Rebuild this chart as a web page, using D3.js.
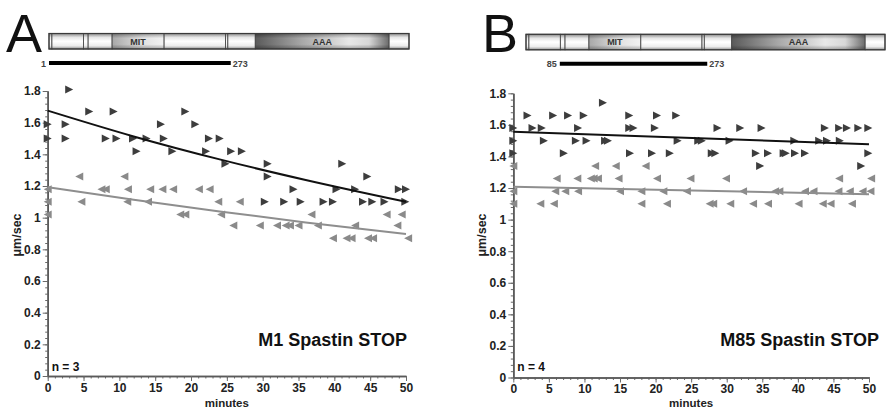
<!DOCTYPE html>
<html>
<head>
<meta charset="utf-8">
<script src="https://cdn.jsdelivr.net/npm/d3@7"></script>
<style>
body{margin:0;background:#fff}
svg{display:block;font-family:"Liberation Sans",Arial,Helvetica,sans-serif}
</style>
</head>
<body>
<div id="chart"></div>
<script>
// spastin speed vs time, two panels

// [minutes, um/sec]
const m1Dark = [[0,1.59],[0,1.50],[2.5,1.59],[2.5,1.50],[3,1.81],[5.8,1.67],[8.1,1.50],[9.2,1.67],[9.6,1.50],[11.9,1.50],[12.4,1.42],[13.8,1.50],[15.8,1.59],[16.2,1.50],[17.4,1.42],[19.2,1.67],[20.6,1.59],[22.1,1.42],[22.5,1.50],[24.0,1.50],[24.8,1.34],[25.6,1.42],[27.1,1.42],[30.3,1.10],[30.7,1.34],[30.7,1.26],[33.0,1.10],[34.3,1.18],[35.3,1.10],[38.5,1.10],[39.8,1.10],[40.3,1.18],[41.1,1.34],[42.9,1.18],[44.0,1.10],[44.6,1.26],[45.3,1.10],[47.0,1.10],[49.0,1.18],[49.9,1.10],[50.0,1.18]]
const m1Gray = [[0,1.18],[0,1.10],[0,1.02],[4.4,1.26],[4.7,1.10],[7.5,1.18],[8.1,1.18],[10.7,1.26],[11.1,1.10],[11.2,1.18],[14.0,1.10],[14.3,1.18],[16.0,1.18],[17.5,1.18],[18.5,1.02],[19.2,1.02],[21.1,1.18],[22.6,1.18],[23.8,1.10],[24.2,1.02],[25.9,0.95],[26.8,1.10],[29.6,0.95],[32.0,0.95],[33.2,0.95],[33.8,0.95],[35.0,0.95],[36.8,1.02],[37.7,0.95],[39.8,0.87],[41.7,0.87],[42.4,0.87],[42.9,0.95],[44.7,0.87],[45.4,0.87],[47.3,1.02],[48.8,0.95],[49.4,1.02],[50.3,0.87]]
const m85Dark = [[0,1.58],[0,1.50],[0,1.42],[2.0,1.66],[2.7,1.58],[4.0,1.58],[4.3,1.50],[5.6,1.66],[7.1,1.42],[7.7,1.66],[8.8,1.50],[9.1,1.58],[9.9,1.66],[10.3,1.50],[12.6,1.74],[12.9,1.50],[13.3,1.50],[16.3,1.66],[16.3,1.58],[16.9,1.58],[16.4,1.42],[19.5,1.42],[19.9,1.58],[20.2,1.66],[22.0,1.42],[22.9,1.66],[23.1,1.50],[26.0,1.50],[26.5,1.50],[27.9,1.42],[28.4,1.42],[28.7,1.58],[30.4,1.50],[31.9,1.58],[34.1,1.42],[34.7,1.34],[34.9,1.58],[35.8,1.42],[38.0,1.42],[38.3,1.42],[39.5,1.50],[39.6,1.42],[41.0,1.42],[43.0,1.50],[43.8,1.58],[44.1,1.50],[45.8,1.58],[45.9,1.50],[46.9,1.58],[48.5,1.58],[48.9,1.34],[49.9,1.58],[49.9,1.42]]
const m85Gray = [[0,1.34],[0,1.18],[0,1.10],[3.8,1.10],[5.7,1.10],[5.9,1.18],[6.1,1.26],[7.3,1.18],[9.0,1.26],[9.1,1.18],[10.9,1.26],[11.3,1.26],[11.9,1.26],[11.5,1.34],[14.4,1.34],[14.8,1.26],[15.0,1.18],[18.0,1.18],[18.0,1.10],[18.6,1.34],[20.2,1.26],[21.1,1.18],[21.6,1.10],[24.4,1.18],[24.9,1.26],[27.6,1.10],[28.1,1.10],[29.9,1.26],[30.5,1.10],[32.3,1.18],[33.7,1.10],[35.8,1.10],[36.8,1.18],[37.4,1.18],[40.1,1.10],[41.0,1.18],[42.2,1.18],[43.5,1.10],[44.6,1.10],[45.7,1.18],[45.8,1.26],[47.3,1.18],[47.6,1.10],[49.1,1.18],[50.2,1.18],[50.3,1.26]]

// fitted curves
const m1FitDark = [[0,1.676],[12,1.513],[24,1.368],[36,1.238],[50,1.10]]
const m1FitGray = [[0,1.192],[12,1.113],[24,1.039],[36,0.970],[50,0.897]]
const m85FitDark = [[0,1.557],[50,1.477]]
const m85FitGray = [[0,1.208],[50,1.160]]

const xTicks = [0,5,10,15,20,25,30,35,40,45,50]
const yTicks = [0,0.2,0.4,0.6,0.8,1,1.2,1.4,1.6,1.8]
const yTickLabels = ["0","0.2","0.4","0.6","0.8","1","1.2","1.4","1.6","1.8"]

// domain diagram, residue units
const domainEdges = [0,5,59,67,108,197,302,306,353,582,616]
const domainKinds = ["plain","plain","plain","plain","mit","plain","plain","plain","aaa","plain"]
const constructA = [0,311], constructALabels = ["1","273"]
const constructB = [58,311], constructBLabels = ["85","273"]

const svg = d3.select("#chart").append("svg")
    .attr("width",886).attr("height",409)

const defs = svg.append("defs")
function grad(id, horiz, stops){
    var g = defs.append("linearGradient").attr("id",id)
        .attr("x1",0).attr("y1",0).attr("x2",horiz?1:0).attr("y2",horiz?0:1)
    stops.forEach(function(s){
        g.append("stop").attr("offset",s[0]).attr("stop-color",s[1])
    })
}
grad("gPlain", false, [[0,"#8a8a8a"],[0.25,"#e6e6e6"],[0.5,"#ffffff"],[0.8,"#ececec"],[1,"#8f8f8f"]])
grad("gMit", true, [[0,"#a8a8a8"],[0.6,"#e2e2e2"],[1,"#f2f2f2"]])
grad("gAaa", true, [[0,"#5a5a5a"],[0.35,"#a8a8a8"],[0.7,"#e8e8e8"],[0.85,"#d8d8d8"],[1,"#6a6a6a"]])
grad("gShade", false, [[0,"rgba(0,0,0,0.35)"],[0.3,"rgba(0,0,0,0)"],[0.7,"rgba(0,0,0,0)"],[1,"rgba(0,0,0,0.3)"]])

const rightTri = "M-4,-4L4,0L-4,4Z"
const leftTri = "M4,-4L-4,0L4,4Z"

function drawPanel(p)
{
    var g = svg.append("g")
    var x = d3.scaleLinear().domain([0,50]).range([p.x0,p.x1])
    var y = d3.scaleLinear().domain([0,1.8]).range([p.y0,p.y1])

    // panel letter
    g.append("text").attr("x",p.letterX).attr("y",52)
        .style("font-size","54px").style("fill","#111").text(p.letter)

    // protein bar
    var bx = d3.scaleLinear().domain([0,616]).range(p.bar)
    var bh = 15.5, by = p.barY
    for (i=0;i<domainKinds.length;i++){
        var k = domainKinds[i]
        var fill = k=="mit" ? "url(#gMit)" : (k=="aaa" ? "url(#gAaa)" : "url(#gPlain)")
        g.append("rect").attr("x",bx(domainEdges[i])).attr("y",by)
            .attr("width",bx(domainEdges[i+1])-bx(domainEdges[i])).attr("height",bh)
            .style("fill",fill).style("stroke","#4a4a4a").style("stroke-width",0.9)
        if (k!="plain"){
            g.append("rect").attr("x",bx(domainEdges[i])).attr("y",by)
                .attr("width",bx(domainEdges[i+1])-bx(domainEdges[i])).attr("height",bh)
                .style("fill","url(#gShade)")
            g.append("text").attr("x",(bx(domainEdges[i])+bx(domainEdges[i+1]))/2).attr("y",by+11)
                .attr("text-anchor","middle").style("font-size","9px").style("font-weight","bold")
                .style("fill","#333").text(k.toUpperCase())
        }
    }
    g.append("rect").attr("x",p.bar[0]).attr("y",by).attr("width",p.bar[1]-p.bar[0]).attr("height",bh)
        .style("fill","none").style("stroke","#3a3a3a").style("stroke-width",1.2)

    // construct line
    var cy = by+bh+14
    g.append("line").attr("x1",bx(p.construct[0])).attr("x2",bx(p.construct[1]))
        .attr("y1",cy).attr("y2",cy).style("stroke","#000").style("stroke-width",4)
    g.append("text").attr("x",bx(p.construct[0])-3).attr("y",cy+3.5).attr("text-anchor","end")
        .style("font-size","9px").style("font-weight","bold").style("fill","#444").text(p.constructLabels[0])
    g.append("text").attr("x",bx(p.construct[1])+2).attr("y",cy+3.5)
        .style("font-size","9px").style("font-weight","bold").style("fill","#444").text(p.constructLabels[1])

    // axes
    g.append("g").attr("transform","translate(0,"+p.y0+")")
        .call(d3.axisBottom(x).tickValues(d3.range(0,51,1)).tickSize(2.5).tickFormat("").tickSizeOuter(0))
    g.append("g").attr("transform","translate("+p.x0+",0)")
        .call(d3.axisLeft(y).tickValues(d3.range(0,46).map(function(d){return d*0.04})).tickSize(2.5).tickFormat("").tickSizeOuter(0))
    g.append("g").attr("transform","translate(0,"+p.y0+")")
        .call(d3.axisBottom(x).tickValues(xTicks).tickSize(5).tickSizeOuter(0).tickPadding(2))
    g.append("g").attr("transform","translate("+p.x0+",0)")
        .call(d3.axisLeft(y).tickValues(yTicks).tickSize(5).tickSizeOuter(0).tickPadding(2)
            .tickFormat(function(d,i){return yTickLabels[i]}))
    g.selectAll(".domain").style("stroke","#5a5a5a").style("stroke-width",1.6)
    g.selectAll(".tick line").style("stroke","#6a6a6a").style("stroke-width",1)
    g.selectAll(".tick text").style("font-size","12px").style("font-weight","bold")
        .style("fill","#222").style("font-family","'Liberation Sans',Arial,sans-serif")

    g.append("text").attr("x",(p.x0+p.x1)/2).attr("y",407).attr("text-anchor","middle")
        .style("font-size","11.5px").style("font-weight","bold").style("fill","#222").text("minutes")
    g.append("text").attr("transform","translate("+(p.x0-27)+",235) rotate(-90)")
        .attr("text-anchor","middle").style("font-size","12.5px").style("font-weight","bold")
        .style("fill","#222").text("\u03bcm/sec")

    g.append("text").attr("x",p.titleX).attr("y",346).attr("text-anchor","end")
        .style("font-size","18px").style("font-weight","bold").style("fill","#111").text(p.title)
    g.append("text").attr("x",p.x0+4).attr("y",370.5)
        .style("font-size","12px").style("font-weight","bold").style("fill","#111").text(p.n)

    var line = d3.line().x(function(d){return x(d[0])}).y(function(d){return y(d[1])}).curve(d3.curveMonotoneX)

    // points
    g.selectAll(null).data(p.gray).enter().append("path")
        .attr("transform",function(d){return "translate("+x(d[0])+","+y(d[1])+")"})
        .attr("d",leftTri).style("fill","#8a8a8a")
    g.selectAll(null).data(p.dark).enter().append("path")
        .attr("transform",function(d){return "translate("+x(d[0])+","+y(d[1])+")"})
        .attr("d",rightTri).style("fill","#3d3d3d")

    // fit lines
    g.append("path").attr("d",line(p.fitGray)).style("fill","none")
        .style("stroke","#8e8e8e").style("stroke-width",2)
    g.append("path").attr("d",line(p.fitDark)).style("fill","none")
        .style("stroke","#111").style("stroke-width",2)
}

drawPanel({letter:"A", letterX:6, x0:47.7, x1:406, y0:376, y1:91,
    bar:[49,409], barY:33.5, construct:constructA, constructLabels:constructALabels,
    dark:m1Dark, gray:m1Gray, fitDark:m1FitDark, fitGray:m1FitGray,
    title:"M1 Spastin STOP", titleX:407, n:"n = 3"})
drawPanel({letter:"B", letterX:482, x0:513.3, x1:869, y0:377.5, y1:93.3,
    bar:[526,885], barY:34.3, construct:constructB, constructLabels:constructBLabels,
    dark:m85Dark, gray:m85Gray, fitDark:m85FitDark, fitGray:m85FitGray,
    title:"M85 Spastin STOP", titleX:879, n:"n = 4"})
</script>
</body>
</html>
